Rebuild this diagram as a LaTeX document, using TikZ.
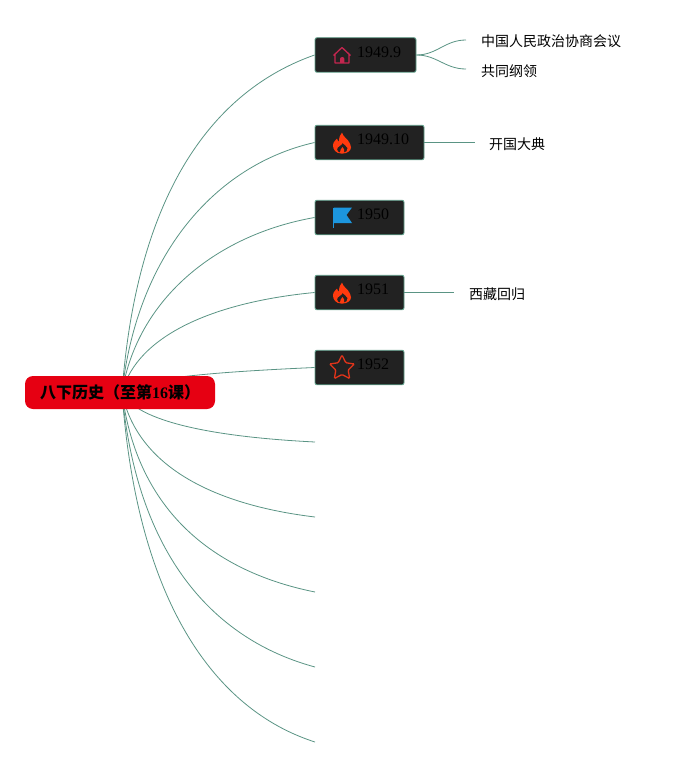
\documentclass[tikz,border=0pt]{standalone}
\usepackage{fontspec}
\setmainfont{Liberation Serif}
\newfontfamily\cjk{Noto Sans CJK SC}
\definecolor{branch}{HTML}{5A9484}
\definecolor{boxfill}{HTML}{222222}
\definecolor{boxline}{HTML}{5F9F8A}
\definecolor{rootred}{HTML}{E60012}
\definecolor{firered}{HTML}{FF3A0E}
\definecolor{homered}{HTML}{C4264F}
\definecolor{flagblue}{HTML}{1C96DE}
\definecolor{starred}{HTML}{E2341A}
\usetikzlibrary{positioning, shapes, backgrounds}
\tikzset{
    yearbox/.style={draw=boxline, fill=boxfill, rounded corners=2pt, line width=0.9pt,
        minimum height=34.5pt, inner sep=0pt},
    yeartext/.style={anchor=west, inner sep=0pt, text=black, font=\fontsize{16pt}{17pt}\selectfont},
    leaftext/.style={anchor=west, inner sep=0pt, font=\cjk\fontsize{14pt}{15pt}\selectfont},
    branchline/.style={draw=branch, line width=0.8pt},
    flame/.pic={
        \fill[fill=firered, even odd rule]
            (-1,11) .. controls (-6,11) and (-9,7) .. (-9,3)
            .. controls (-9,-1) and (-6,-2) .. (-5,-4)
            .. controls (-4.5,-2) and (-4,-1.5) .. (-3,-1)
            .. controls (-3,-5) and (-2,-8) .. (0,-10)
            .. controls (1,-6) and (4,-5) .. (6,-2)
            .. controls (8,1) and (9,3) .. (9,5)
            .. controls (9,8) and (5,11) .. (1,11) -- cycle
            (0.5,0.5) .. controls (0,3) and (-5,4) .. (-5,7)
            .. controls (-5,9) and (-3,10) .. (-2,10)
            .. controls (-3,7) and (0,7) .. (0.5,4.5)
            .. controls (2,6) and (3,8) .. (2,10)
            .. controls (4,10) and (6,8) .. (5.5,5.5)
            .. controls (5,3) and (2,3) .. (0.5,0.5) -- cycle;
    }
}
\begin{document}
\begin{tikzpicture}[x=1pt, y=-1pt]
    \useasboundingbox (0,0) rectangle (681,768);

    \node [rounded corners=8pt, fill=rootred, minimum width=190pt, minimum height=33pt, inner sep=0pt,
           text=black, font=\bfseries\fontsize{16pt}{17pt}\selectfont] (root) at (120,392.5)
           {{\cjk 八下历史（至第}16{\cjk 课）}};

    % year boxes
    \node [yearbox, minimum width=101pt] (year1) at (365.5,55) {};
    \node [yearbox, minimum width=109pt] (year2) at (369.5,142.5) {};
    \node [yearbox, minimum width=89pt] (year3) at (359.5,217.5) {};
    \node [yearbox, minimum width=89pt] (year4) at (359.5,292.5) {};
    \node [yearbox, minimum width=89pt] (year5) at (359.5,367.5) {};

    \node [yeartext] (date1) at (357,52.5) {1949.9};
    \node [yeartext] (date2) at (357,139.5) {1949.10};
    \node [yeartext] (date3) at (357,214.5) {1950};
    \node [yeartext] (date4) at (357,289.5) {1951};
    \node [yeartext] (date5) at (357,364.5) {1952};

    % icons
    \draw [draw=homered, line width=1.3pt, line join=round]
        (333.5,55.5) -- (342,47.5) -- (350.5,55.5) (335,54.5) -- (335,63) -- (349,63) -- (349,54.5);
    \fill [homered] (340,63) -- (340,59) arc[start angle=180, end angle=360, x radius=2.2pt, y radius=-2pt] -- (344.4,63) -- cycle;
    \pic at (342,142.5) {flame};
    \fill [fill=flagblue] (334,207.5) -- (352,207.5) -- (346.5,215) -- (352,223) -- (334,223) -- cycle;
    \draw [draw=flagblue, line width=1pt] (333.5,207.5) -- (333.5,228);
    \pic at (342,292.5) {flame};
    \node [star, star points=5, star point ratio=2, draw=starred, line width=1.3pt, rounded corners=1pt,
           minimum size=26pt, inner sep=0pt] (starmark) at (342,368) {};

    % free ends
    \coordinate (end6) at (315,442);
    \coordinate (end7) at (315,517);
    \coordinate (end8) at (315,592);
    \coordinate (end9) at (315,667);
    \coordinate (end10) at (315,742);
    \coordinate (leaf1a) at (466,40);
    \coordinate (leaf1b) at (466,69);
    \coordinate (leaf2) at (475,142.5);
    \coordinate (leaf4) at (454,292.5);

    \node [leaftext] (text1a) at (481,41) {中国人民政治协商会议};
    \node [leaftext] (text1b) at (481,71) {共同纲领};
    \node [leaftext] (text2) at (489,144) {开国大典};
    \node [leaftext] (text4) at (469,294) {西藏回归};

    \begin{scope}[on background layer]
        \draw [branchline] ([xshift=2pt]root.center) .. controls (137,190) and (215,90) .. (year1.west);
        \draw [branchline] ([xshift=2pt]root.center) .. controls (137,255) and (215,165) .. (year2.west);
        \draw [branchline] ([xshift=2pt]root.center) .. controls (137,300) and (215,235) .. (year3.west);
        \draw [branchline] ([xshift=2pt]root.center) .. controls (137,335) and (215,302) .. (year4.west);
        \draw [branchline] ([xshift=2pt]root.center) .. controls (137,378) and (215,372) .. (year5.west);
        \draw [branchline] ([xshift=2pt]root.center) .. controls (137,422) and (215,437) .. (end6);
        \draw [branchline] ([xshift=2pt]root.center) .. controls (137,467) and (215,505) .. (end7);
        \draw [branchline] ([xshift=2pt]root.center) .. controls (137,512) and (215,572) .. (end8);
        \draw [branchline] ([xshift=2pt]root.center) .. controls (137,557) and (215,640) .. (end9);
        \draw [branchline] ([xshift=2pt]root.center) .. controls (137,602) and (215,710) .. (end10);
    \end{scope}

    \draw [branchline] (year1.east) .. controls (437,55) and (445,40) .. (leaf1a);
    \draw [branchline] (year1.east) .. controls (437,55) and (445,69) .. (leaf1b);
    \draw [branchline] (year2.east) -- (leaf2);
    \draw [branchline] (year4.east) -- (leaf4);
\end{tikzpicture}
\end{document}
